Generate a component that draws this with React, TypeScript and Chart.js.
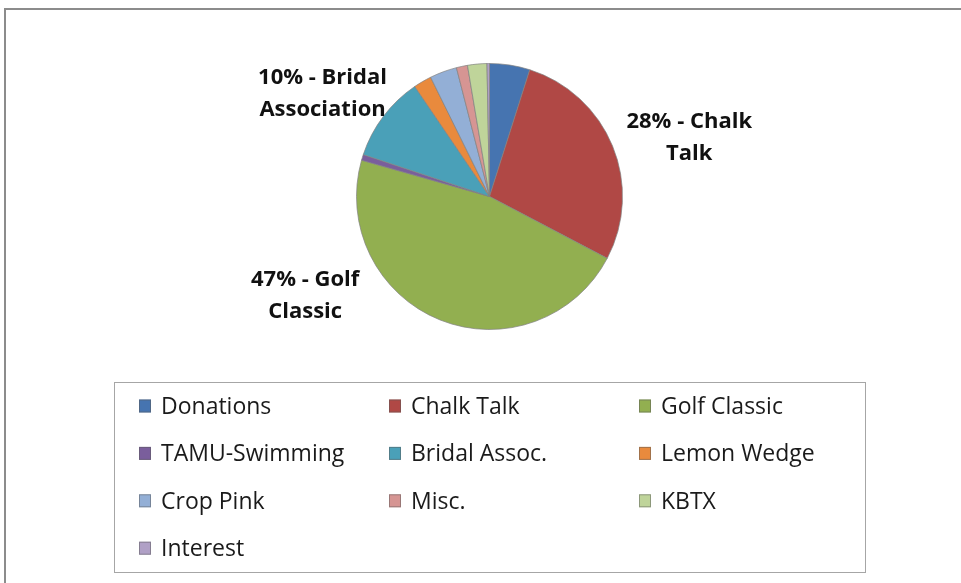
import React, { useEffect, useRef } from "react";
import { Chart, registerables } from "chart.js";

Chart.register(...registerables);

const categories = [
  "Donations",
  "Chalk Talk",
  "Golf Classic",
  "TAMU-Swimming",
  "Bridal Assoc.",
  "Lemon Wedge",
  "Crop Pink",
  "Misc.",
  "KBTX",
  "Interest",
];
const values = [4.9, 27.8, 46.7, 0.7, 10.4, 2.2, 3.3, 1.35, 2.35, 0.3];
const colors = [
  "#4674B0",
  "#B04845",
  "#92AF50",
  "#7A5E9C",
  "#4AA0B8",
  "#E98A3D",
  "#93AFD6",
  "#D69593",
  "#BFD49A",
  "#B0A0C6",
];
// data label texts (first line follows the percentage)
const labelIndexes = [1, 2, 4];
const labelLines = [
  ["Chalk", "Talk"],
  ["Golf", "Classic"],
  ["Bridal", "Association"],
];
// label placement: angle (deg clockwise from top) and distance in radii
const labelAngles = [73.3, 242, 301.8];
const labelDistances = [1.568, 1.57, 1.477];

const FONT = "'Open Sans', Lato, sans-serif";

const overlayPlugin = {
  id: "overlay",
  afterDraw(chart: any) {
    const ctx = chart.ctx as CanvasRenderingContext2D;
    const meta = chart.getDatasetMeta(0);
    const total = values.reduce((a, b) => a + b, 0);
    ctx.save();
    // outer chart border
    ctx.strokeStyle = "#8C8C8C";
    ctx.lineWidth = 2;
    ctx.beginPath();
    ctx.moveTo(5, 600);
    ctx.lineTo(5, 9);
    ctx.lineTo(970, 9);
    ctx.stroke();

    // data labels
    ctx.fillStyle = "#111111";
    ctx.font = `bold 22px ${FONT}`;
    ctx.textAlign = "center";
    ctx.textBaseline = "middle";
    labelIndexes.forEach((idx, i) => {
      const arc = meta.data[idx] as any;
      const r = arc.outerRadius;
      const a = (labelAngles[i] * Math.PI) / 180;
      const cx = arc.x + Math.sin(a) * r * labelDistances[i];
      const cy = arc.y - Math.cos(a) * r * labelDistances[i];
      const pct = Math.round((values[idx] / total) * 100);
      const lines = [`${pct}% - ${labelLines[i][0]}`, labelLines[i][1]];
      const lh = 31.5;
      lines.forEach((t, k) => {
        ctx.fillText(t, cx, cy + 1 + (k - (lines.length - 1) / 2) * lh);
      });
    });

    // legend
    ctx.strokeStyle = "#A6A6A6";
    ctx.lineWidth = 1;
    ctx.strokeRect(114.5, 382.5, 751, 190);
    ctx.font = `23px ${FONT}`;
    ctx.textAlign = "left";
    ctx.textBaseline = "middle";
    categories.forEach((c, i) => {
      const col = i % 3;
      const row = Math.floor(i / 3);
      const x = 139 + col * 250;
      const y = 406 + row * 47.4;
      ctx.fillStyle = colors[i];
      ctx.fillRect(x, y - 6.5, 12, 13);
      ctx.strokeStyle = "rgba(90,90,90,0.5)";
      ctx.strokeRect(x + 0.5, y - 6, 11, 12);
      ctx.fillStyle = "#1A1A1A";
      ctx.fillText(c, x + 22, y + 1.5);
    });
    ctx.restore();
  },
};

export default function App() {
  const ref = useRef<HTMLCanvasElement | null>(null);
  useEffect(() => {
    if (!ref.current) return;
    const chart = new Chart(ref.current, {
      type: "pie",
      data: {
        labels: categories,
        datasets: [
          {
            data: values,
            backgroundColor: colors,
            borderColor: "rgba(130,130,130,0.7)",
            borderWidth: 1,
          },
        ],
      },
      options: {
        responsive: false,
        animation: false,
        layout: { padding: { left: 356, right: 338, top: 63, bottom: 253 } },
        plugins: {
          legend: { display: false },
          tooltip: { enabled: false },
        },
      },
      plugins: [overlayPlugin],
    });
    return () => chart.destroy();
  }, []);
  return (
    <div style={{ position: "fixed", left: 0, top: 0, width: 961, height: 583, background: "#fff" }}>
      <canvas ref={ref} width={961} height={583} style={{ width: 961, height: 583 }} />
    </div>
  );
}
